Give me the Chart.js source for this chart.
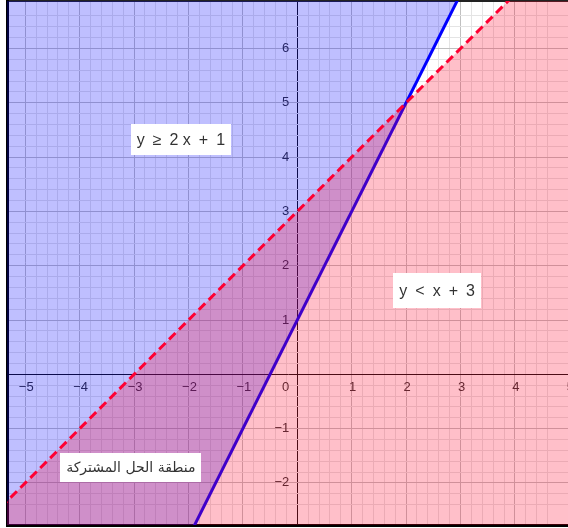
<!DOCTYPE html>
<html>
<head>
<meta charset="utf-8">
<script src="https://cdn.jsdelivr.net/npm/chart.js@4.4.0/dist/chart.umd.min.js"></script>
<style>
  html, body { margin: 0; padding: 0; background: #fff; }
  #wrap { width: 568px; height: 528px; position: relative; }
</style>
</head>
<body>
<div id="wrap"><canvas id="graph"></canvas></div>
<script>
// visible window in graph units
const xMin = -5.336, xMax = 4.976;
const yMin = -2.775, yMax = 6.875;

// numbers printed along the axes
const xTickLabels = [-5, -4, -3, -2, -1, 1, 2, 3, 4, 5];
const yTickLabels = [-2, -1, 1, 2, 3, 4, 5, 6];

// boundary y = 2x + 1 (solid, shaded above)
const solidX = [-6, 6];
const solidY = [-11, 13];

// boundary y = x + 3 (dashed, shaded below)
const dashedX = [-6, 6];
const dashedY = [-3, 9];

// text boxes (en spaces around the operators, like the math typesetting)
const boxTexts = ['y\u2002\u2265\u20022 x\u2002+\u20021', 'y\u2002<\u2002x\u2002+\u20023', 'منطقة الحل المشتركة'];
const boxAnchors = [[-2.14, 4.32], [2.57, 1.54], [-3.06, -1.72]];

const isWhole = v => Math.abs(v - Math.round(v)) < 1e-6;
const fmt = v => (v < 0 ? '\u2212' + (-v) : String(v));

function gridColor(ctx) {
    const v = ctx.tick ? ctx.tick.value : NaN;
    const s = ctx.scale;
    if (Math.abs(v - s.min) < 1e-6 || Math.abs(v - s.max) < 1e-6) {
        // top edge gets a thin frame, the rest stay hidden
        return (s.axis === 'y' && Math.abs(v - s.max) < 1e-6) ? '#222' : 'rgba(0,0,0,0)';
    }
    if (Math.abs(v) < 1e-6) return '#111';
    if (isWhole(v)) return '#c0c0c0';
    return '#e4e4e4';
}
function gridWidth(ctx) {
    const v = ctx.tick ? ctx.tick.value : NaN;
    if (ctx.scale.axis === 'y' && Math.abs(v - ctx.scale.max) < 1e-6) return 2;
    return 1;
}

// axis numbers, drawn under the shading like the original
const axisNumbers = {
    id: 'axisNumbers',
    beforeDatasetsDraw(chart) {
        const { ctx } = chart;
        const xs = chart.scales.x, ys = chart.scales.y;
        const x0 = xs.getPixelForValue(0), y0 = ys.getPixelForValue(0);
        ctx.save();
        ctx.font = '13px "Liberation Sans", Arial, sans-serif';
        ctx.fillStyle = '#333';
        ctx.textAlign = 'center';
        ctx.textBaseline = 'top';
        xTickLabels.forEach(v => ctx.fillText(fmt(v), xs.getPixelForValue(v) + 1, y0 + 7));
        ctx.textAlign = 'right';
        ctx.fillText('0', x0 - 8, y0 + 7);
        ctx.textBaseline = 'middle';
        yTickLabels.forEach(v => ctx.fillText(fmt(v), x0 - 8, ys.getPixelForValue(v)));
        ctx.restore();
    }
};

// white label boxes on top
const boxHeights = [31, 35, 29];
const textBoxes = {
    id: 'textBoxes',
    afterDatasetsDraw(chart) {
        const { ctx } = chart;
        const xs = chart.scales.x, ys = chart.scales.y;
        ctx.save();
        boxTexts.forEach((t, i) => {
            const arabic = /[\u0600-\u06FF]/.test(t);
            ctx.font = arabic ? '14px "DejaVu Sans", sans-serif' : '16px "Liberation Sans", Arial, sans-serif';
            const w = ctx.measureText(t).width + 12;
            const h = boxHeights[i];
            const cx = xs.getPixelForValue(boxAnchors[i][0]);
            const cy = ys.getPixelForValue(boxAnchors[i][1]);
            ctx.fillStyle = '#fff';
            ctx.fillRect(Math.round(cx - w / 2), Math.round(cy - h / 2), Math.round(w), h);
            ctx.fillStyle = '#333';
            ctx.textAlign = 'center';
            ctx.textBaseline = 'middle';
            ctx.fillText(t, cx, cy + 1);
        });
        ctx.restore();
    }
};

const ctx = document.getElementById('graph').getContext('2d');
new Chart(ctx, {
    type: 'line',
    data: {
        datasets: [{
            label: 'y < x + 3',
            data: dashedX.map((x, i) => ({ x: x, y: dashedY[i] })),
            borderColor: '#ff0033',
            borderWidth: 3,
            borderDash: [9, 5],
            backgroundColor: 'rgba(255, 0, 40, 0.25)',
            fill: 'start',
            pointRadius: 0,
            tension: 0,
            order: 0
        }, {
            label: 'y >= 2x + 1',
            data: solidX.map((x, i) => ({ x: x, y: solidY[i] })),
            borderColor: '#0000ff',
            borderWidth: 3,
            backgroundColor: 'rgba(0, 0, 255, 0.25)',
            fill: 'end',
            pointRadius: 0,
            tension: 0,
            order: 1
        }]
    },
    options: {
        responsive: true,
        maintainAspectRatio: false,
        animation: false,
        layout: { padding: { left: 7, top: 1, right: 0, bottom: 3 } },
        plugins: {
            legend: { display: false },
            tooltip: { enabled: false }
        },
        scales: {
            x: {
                type: 'linear',
                min: xMin,
                max: xMax,
                ticks: { display: false, stepSize: 0.2 },
                grid: { color: gridColor, lineWidth: gridWidth, drawTicks: false },
                border: { display: true, color: '#000', width: 3 }
            },
            y: {
                type: 'linear',
                min: yMin,
                max: yMax,
                ticks: { display: false, stepSize: 0.2 },
                grid: { color: gridColor, lineWidth: gridWidth, drawTicks: false },
                border: { display: true, color: '#000', width: 3 }
            }
        }
    },
    plugins: [axisNumbers, textBoxes]
});
</script>
</body>
</html>
